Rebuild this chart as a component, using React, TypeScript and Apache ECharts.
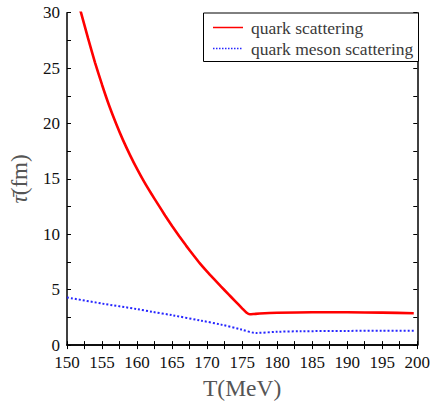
import React, { useEffect, useRef } from "react";
import * as echarts from "echarts";

const redT = [151.5, 152, 153, 154, 155, 156, 157, 158, 159, 160, 161, 162, 163, 164, 165, 166, 167, 168, 169, 170, 171, 172, 173, 174, 175, 175.6, 176.1, 176.6, 177.5, 180, 185, 190, 195, 199.5];
const redV = [31.1, 30.0, 27.7, 25.5, 23.5, 21.65, 20.0, 18.5, 17.15, 15.9, 14.75, 13.7, 12.7, 11.7, 10.75, 9.85, 8.98, 8.15, 7.35, 6.63, 5.95, 5.28, 4.62, 3.97, 3.32, 2.95, 2.78, 2.8, 2.85, 2.92, 2.97, 2.96, 2.93, 2.88];

const blueT = [150.0, 155.0, 160.0, 162.2, 165.0, 169.2, 172.0, 174.9, 177.0, 180.0, 183.4, 190.0, 195.0, 199.5];
const blueV = [4.3, 3.75, 3.25, 3.0, 2.7, 2.2, 1.85, 1.4, 1.1, 1.2, 1.25, 1.28, 1.3, 1.3];

const legendNames = ["quark scattering", "quark meson scattering"];
const redColor = "#ff0000";
const blueColor = "#2626ff";

const zip = (a: number[], b: number[]) => a.map((x, i) => [x, b[i]]);

export default function App() {
  const ref = useRef<HTMLDivElement>(null);
  useEffect(() => {
    if (!ref.current) return;
    const chart = echarts.init(ref.current, undefined, { renderer: "svg" });
    const serif = "'Liberation Serif', 'Times New Roman', 'DejaVu Serif', serif";
    const axisCommon = {
      axisLine: { show: true, lineStyle: { color: "#000", width: 1.5 } },
      axisTick: { show: true, inside: true, length: 4, lineStyle: { color: "#000", width: 1 } },
      minorTick: { show: true, splitNumber: 2, length: 4, lineStyle: { color: "#000", width: 1 } },
      splitLine: { show: false },
    };
    const lx = 203.5, ly = 13, lw = 215, lh = 48.5;
    const legendText = { fontFamily: serif, fontSize: 17.5, fill: "#3a3a3a", verticalAlign: "middle" };
    chart.setOption({
      animation: false,
      backgroundColor: "#fff",
      grid: { left: 64, right: 15.5, top: 12.7, bottom: 49, containLabel: false },
      graphic: [
        {
          type: "rect",
          shape: { x: lx, y: ly, width: lw, height: lh },
          style: { fill: "#fff", stroke: "#000", lineWidth: 1 },
          z: 10,
        },
        {
          type: "line",
          shape: { x1: 213, y1: 27.5, x2: 243, y2: 27.5 },
          style: { stroke: redColor, lineWidth: 1.5 },
          z: 11,
        },
        {
          type: "line",
          shape: { x1: 213, y1: 48.5, x2: 243, y2: 48.5 },
          style: { stroke: blueColor, lineWidth: 1.5, lineDash: [1.5, 1.5] },
          z: 11,
        },
        { type: "text", x: 251, y: 27.5, style: { text: legendNames[0], ...legendText }, z: 11 },
        { type: "text", x: 251, y: 48.5, style: { text: legendNames[1], ...legendText }, z: 11 },
      ],
      xAxis: [
        {
          type: "value",
          min: 150,
          max: 200,
          interval: 5,
          ...axisCommon,
          axisLabel: { fontFamily: serif, fontSize: 17, color: "#111", margin: 9 },
          name: "T(MeV)",
          nameLocation: "middle",
          nameGap: 26,
          nameTextStyle: { fontFamily: serif, fontSize: 23.5, color: "#555" },
        },
        {
          type: "value",
          position: "top",
          min: 150,
          max: 200,
          interval: 5,
          ...axisCommon,
          axisLabel: { show: false },
        },
      ],
      yAxis: [
        {
          type: "value",
          min: 0,
          max: 30,
          interval: 5,
          ...axisCommon,
          axisLabel: { fontFamily: serif, fontSize: 17, color: "#111", margin: 7 },
          name: "{i|\u03C4\u0304}(fm)",
          nameLocation: "middle",
          nameGap: 36,
          nameRotate: 90,
          nameTextStyle: {
            fontFamily: serif,
            fontSize: 23,
            color: "#555",
            rich: { i: { fontFamily: serif, fontStyle: "italic", fontSize: 23, color: "#555" } },
          },
        },
        {
          type: "value",
          position: "right",
          min: 0,
          max: 30,
          interval: 5,
          ...axisCommon,
          axisLabel: { show: false },
        },
      ],
      series: [
        {
          name: legendNames[0],
          type: "line",
          data: zip(redT, redV),
          smooth: 0.2,
          symbol: "none",
          clip: true,
          lineStyle: { color: redColor, width: 2.6 },
          itemStyle: { color: redColor },
        },
        {
          name: legendNames[1],
          type: "line",
          data: zip(blueT, blueV),
          smooth: 0.3,
          symbol: "none",
          clip: true,
          lineStyle: { color: blueColor, width: 2, type: [2, 2] },
          itemStyle: { color: blueColor },
        },
      ],
    });
    return () => chart.dispose();
  }, []);
  return <div ref={ref} style={{ position: "absolute", left: 0, top: 0, width: 433, height: 405 }} />;
}
